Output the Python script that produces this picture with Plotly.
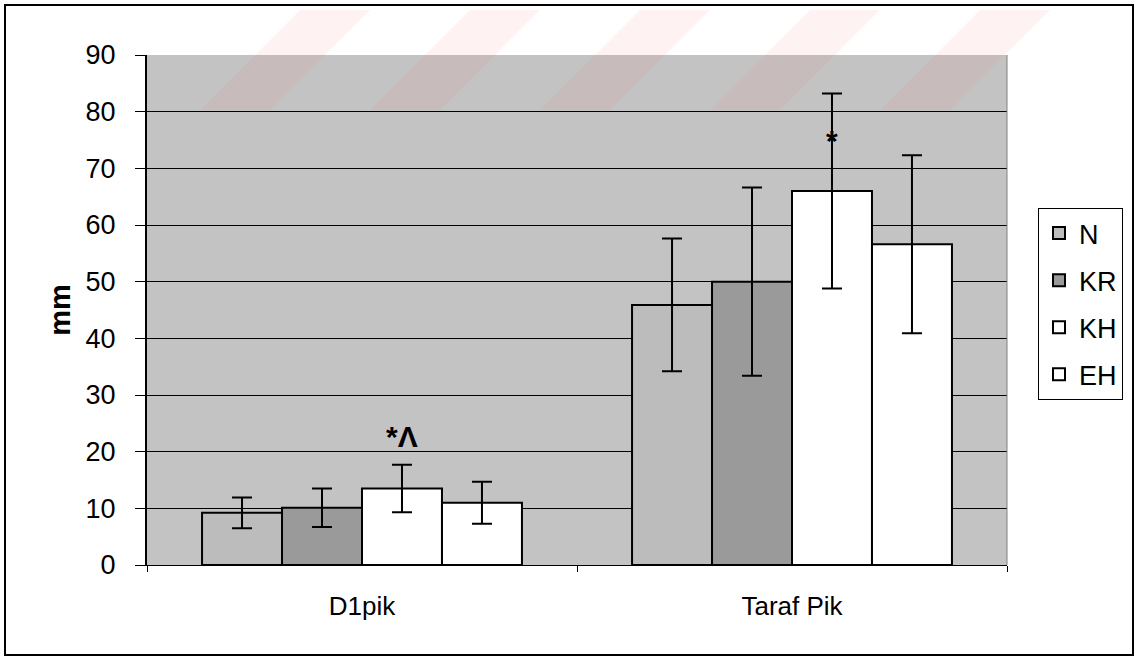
import plotly.graph_objects as go

categories = ["D1pik", "Taraf Pik"]
groups = ["N", "KR", "KH", "EH"]
means = {
    "N": [9.2, 45.9],
    "KR": [10.1, 50.0],
    "KH": [13.5, 66.0],
    "EH": [11.0, 56.6],
}
errors = {
    "N": [2.7, 11.7],
    "KR": [3.4, 16.6],
    "KH": [4.2, 17.2],
    "EH": [3.7, 15.7],
}
colors = {"N": "#bcbcbc", "KR": "#9a9a9a", "KH": "#ffffff", "EH": "#ffffff"}
y_ticks = [0, 10, 20, 30, 40, 50, 60, 70, 80, 90]
sig_labels = [("D1pik", "KH", 22.6, "*Λ"), ("Taraf Pik", "KH", 75.0, "*")]

FONT = "Liberation Sans, Arial, sans-serif"

fig = go.Figure()
for i, g in enumerate(groups):
    fig.add_trace(go.Bar(
        name=g, x=categories, y=means[g],
        marker=dict(color=colors[g], line=dict(color="black", width=2)),
        error_y=dict(type="data", array=errors[g], color="black", thickness=2, width=10),
        legendgroup=g,
    ))

bar_w = (1 - 0.256) / 4
for cat, g, yv, txt in sig_labels:
    ci = categories.index(cat)
    gi = groups.index(g)
    xpos = ci - (1 - 0.256) / 2 + bar_w * (gi + 0.5)
    fig.add_annotation(x=xpos, y=yv, xref="x", yref="y", text=f"<b>{txt}</b>",
                       showarrow=False, font=dict(size=30, color="black", family=FONT))

# outer frame (paper coords relative to plot area: x 147..1007, y 565..55 px)
fig.add_shape(type="rect", xref="paper", yref="paper",
              x0=(5 - 147) / 860, x1=(1133 - 147) / 860,
              y0=(565 - 655) / 510, y1=(565 - 5) / 510,
              line=dict(color="black", width=2), layer="below")
# plot-area right border
fig.add_shape(type="line", xref="paper", yref="paper", x0=1, x1=1, y0=0, y1=1,
              line=dict(color="#808080", width=1))

# faint watermark stripes
for k in range(5):
    x0 = 200 + k * 170
    fig.add_shape(type="path", xref="paper", yref="paper",
                  path=(f"M {(x0-147)/860:.4f},{(565-110)/510:.4f} "
                        f"L {(x0+70-147)/860:.4f},{(565-110)/510:.4f} "
                        f"L {(x0+170-147)/860:.4f},{(565-10)/510:.4f} "
                        f"L {(x0+100-147)/860:.4f},{(565-10)/510:.4f} Z"),
                  fillcolor="rgba(240,110,110,0.09)", line=dict(width=0), layer="above")

fig.update_layout(
    width=1138, height=661,
    margin=dict(l=147, r=131, t=55, b=96),
    paper_bgcolor="white",
    plot_bgcolor="#c3c3c3",
    barmode="group", bargap=0.256, bargroupgap=0,
    font=dict(family=FONT, size=26, color="black"),
    showlegend=True,
    legend=dict(x=(1038 - 147) / 860, y=(565 - 208) / 510, xanchor="left", yanchor="top",
                bordercolor="black", borderwidth=1, bgcolor="white",
                font=dict(size=27, family=FONT), traceorder="grouped",
                tracegroupgap=9, itemwidth=30),
    xaxis=dict(type="category", showgrid=False, showline=True, linecolor="black", linewidth=1,
               ticks="outside", tickson="boundaries", ticklen=6, tickcolor="black",
               tickfont=dict(size=26, family=FONT), ticklabelstandoff=18),
    yaxis=dict(range=[0, 90], tickvals=y_ticks, showgrid=True, gridcolor="black", gridwidth=1,
               showline=True, linecolor="black", linewidth=2, ticks="outside", ticklen=10,
               tickcolor="black", tickfont=dict(size=27, family=FONT), ticklabelstandoff=14,
               title=dict(text="<b>mm</b>", font=dict(size=29, family=FONT), standoff=6),
               zeroline=False),
)

fig.write_html("out.html")
